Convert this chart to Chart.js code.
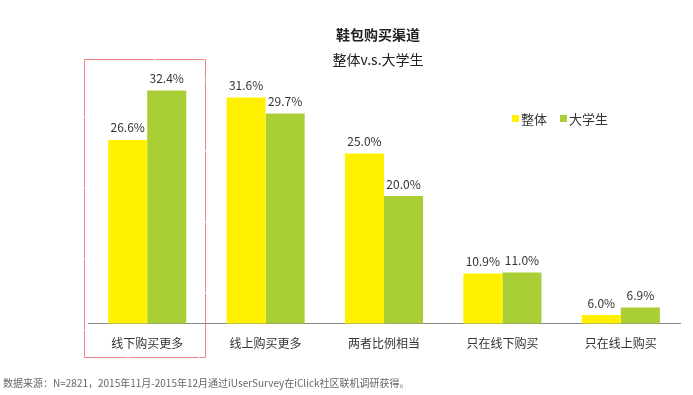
<!DOCTYPE html>
<html>
<head>
<meta charset="utf-8">
<script src="https://cdn.jsdelivr.net/npm/chart.js@4"></script>
<style>
    html, body { margin: 0; padding: 0; background: #fff; }
    #wrap { width: 693px; height: 395px; position: relative; }
</style>
</head>
<body>
<div id="wrap"><canvas id="shoeChart"></canvas></div>
<script>
const categories = ['线下购买更多', '线上购买更多', '两者比例相当', '只在线下购买', '只在线上购买'];
const overallValues = [26.6, 31.6, 25.0, 10.9, 6.0];
const studentValues = [32.4, 29.7, 20.0, 11.0, 6.9];
const seriesNames = ['整体', '大学生'];

const FONT = '"Noto Sans CJK SC", "Noto Sans", sans-serif';
const YELLOW = '#FFF100';
const GREEN = '#AACF36';

// titles, legend, value labels, highlight box and footnote
const decorations = {
    id: 'decorations',
    afterDraw(chart) {
        const c = chart.ctx;
        const xs = chart.scales.x;
        c.save();

        c.fillStyle = '#222';
        c.textAlign = 'center';
        c.textBaseline = 'middle';
        c.font = 'bold 14px ' + FONT;
        c.fillText('鞋包购买渠道', 378, 35);
        c.font = '14px ' + FONT;
        c.fillText('整体v.s.大学生', 378, 60);

        // legend
        c.font = '13px ' + FONT;
        c.textAlign = 'left';
        c.fillStyle = YELLOW;
        c.fillRect(512, 115, 7, 7);
        c.fillStyle = GREEN;
        c.fillRect(560, 115, 7, 7);
        c.fillStyle = '#333';
        c.fillText(seriesNames[0], 521, 119);
        c.fillText(seriesNames[1], 569, 119);

        // value labels
        c.font = '12px ' + FONT;
        c.textAlign = 'center';
        c.textBaseline = 'bottom';
        c.fillStyle = '#333';
        chart.data.datasets.forEach((ds, i) => {
            chart.getDatasetMeta(i).data.forEach((bar, j) => {
                c.fillText(ds.data[j].toFixed(1) + '%', bar.x, bar.y - 6);
            });
        });

        // highlight first category
        const left = xs.getPixelForValue(0) - 63;
        c.strokeStyle = '#EE8585';
        c.lineWidth = 1;
        c.setLineDash([70, 1]);
        c.strokeRect(Math.round(left) + 0.5, 59.5, 121, 298);
        c.setLineDash([]);

        // footnote
        c.font = '10px ' + FONT;
        c.textAlign = 'left';
        c.textBaseline = 'middle';
        c.fillStyle = '#666';
        c.fillText('数据来源：N=2821，2015年11月-2015年12月通过iUserSurvey在iClick社区联机调研获得。', 3, 383);

        c.restore();
    }
};

const ctx = document.getElementById('shoeChart').getContext('2d');
const shoeChart = new Chart(ctx, {
    type: 'bar',
    data: {
        labels: categories,
        datasets: [{
            label: seriesNames[0],
            data: overallValues,
            backgroundColor: YELLOW,
            barPercentage: 1,
            categoryPercentage: 0.66
        }, {
            label: seriesNames[1],
            data: studentValues,
            backgroundColor: GREEN,
            barPercentage: 1,
            categoryPercentage: 0.66
        }]
    },
    options: {
        responsive: true,
        maintainAspectRatio: false,
        animation: false,
        layout: {
            padding: { left: 88, right: 13, top: 60, bottom: 31 }
        },
        plugins: {
            legend: { display: false },
            tooltip: { enabled: false }
        },
        scales: {
            x: {
                grid: { display: false, drawTicks: false },
                border: { display: true, color: '#888', width: 1 },
                ticks: {
                    color: '#333',
                    padding: 13,
                    font: { family: FONT, size: 12 }
                }
            },
            y: {
                display: false,
                min: 5,
                max: 36
            }
        }
    },
    plugins: [decorations]
});
</script>
</body>
</html>
